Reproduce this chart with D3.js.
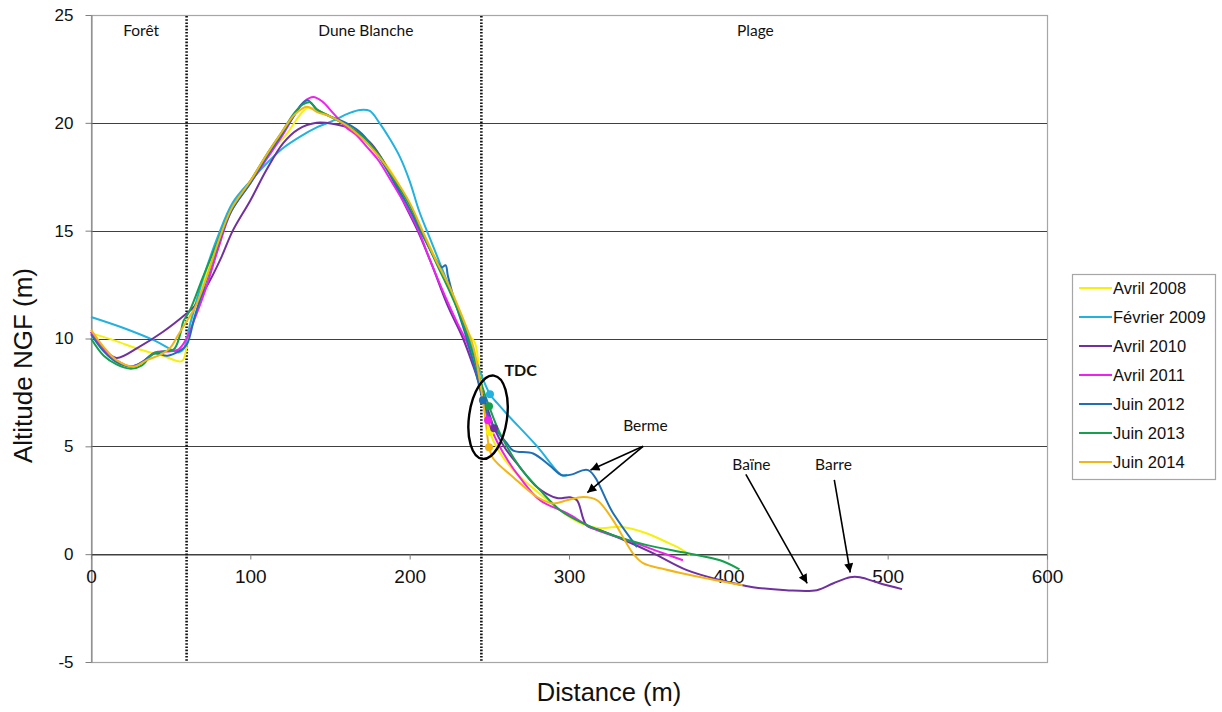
<!DOCTYPE html>
<html>
<head>
<meta charset="utf-8">
<script src="https://cdn.jsdelivr.net/npm/d3@7"></script>
<style>
  html, body { margin: 0; padding: 0; background: #fff; }
  svg { display: block; }
</style>
</head>
<body>
<svg id="chart" width="1222" height="712"></svg>
<script>
// ---------------- DATA ----------------
const seriesNames = ["Avril 2008", "Février 2009", "Avril 2010", "Avril 2011", "Juin 2012", "Juin 2013", "Juin 2014"];

const avril2008 = [[0,10.25],[15,9.9],[30,9.5],[45,9.2],[57,8.95],[60,9.6],[63,11.0],[70,12.5],[80,14.5],[88,16.0],[100,17.3],[112,18.6],[123,19.5],[130,20.25],[136,20.7],[145,20.5],[155,20.1],[165,19.7],[175,19.0],[185,18.1],[195,16.9],[205,15.4],[215,13.9],[225,12.3],[233,11.0],[238,10.1],[241,9.8],[244,8.4],[248,6.6],[250.4,5.66],[255,4.9],[265,3.9],[280,2.9],[295,2.0],[307,1.44],[319.5,1.2],[332,1.27],[349,0.96],[360,0.6],[370,0.25],[376,-0.05]];
const fevrier2009 = [[0,11.0],[20,10.5],[40,9.9],[50,9.5],[55,9.35],[58,9.5],[62,10.6],[70,12.7],[80,14.8],[89,16.3],[100,17.3],[110,18.1],[120,18.8],[131,19.35],[142,19.8],[152,20.1],[162,20.45],[169,20.6],[175,20.55],[181,20.0],[188,19.2],[194,18.4],[200,17.3],[206,15.9],[213,14.6],[220,13.3],[228,11.8],[236,10.3],[243,8.7],[250.4,7.42],[255,7.0],[261,6.5],[280,5.0],[295.6,3.66],[299,3.68]];
const avril2010 = [[0,10.3],[8,9.5],[16,9.1],[30,9.6],[45,10.3],[59,11.1],[65,11.5],[74.7,12.7],[82,13.8],[89,15.0],[100,16.4],[110,17.8],[120.5,19.05],[130,19.7],[141.6,20.0],[152,19.95],[162.5,19.75],[175,19.1],[182,18.4],[189.5,17.34],[197,16.2],[205,15.0],[214,13.4],[224,11.5],[233.5,10.0],[240,8.7],[245,7.6],[250,6.5],[253,5.84],[260,4.9],[269,4.05],[280,3.1],[292.5,2.6],[300.6,2.64],[305,2.5],[311,1.34],[320,1.1],[332,0.74],[352.7,0.05],[374,-0.74],[394.8,-1.2],[415.5,-1.53],[436.3,-1.67],[455.6,-1.67],[466,-1.35],[476.4,-1.07],[482.6,-1.07],[495,-1.35],[509,-1.62]];
const avril2011 = [[0,10.3],[10,9.3],[18,8.9],[25,8.7],[32,8.9],[40,9.35],[48,9.4],[55,9.5],[60,10.0],[65,10.9],[72,12.3],[80,14.2],[88,15.9],[100,17.2],[110,18.3],[120,19.4],[128,20.4],[134,21.0],[139.5,21.2],[145,21.0],[152,20.45],[160,19.8],[167,19.4],[173,18.9],[180,18.3],[188,17.35],[198,16.1],[205,15.1],[213,13.6],[222,12.0],[230,10.7],[236,9.8],[242,8.4],[246,7.2],[249.2,6.21],[255,5.2],[262,4.3],[269,3.57],[281.8,2.5],[298.7,1.9],[315,1.2],[340,0.56],[355,0.15],[371.5,-0.28]];
const juin2012 = [[0,10.2],[8,9.4],[16,8.9],[25,8.7],[32,8.9],[40,9.3],[48,9.2],[55,9.4],[60,9.7],[65,11.0],[72,12.6],[80,14.4],[88,15.9],[100,17.2],[110,18.4],[120,19.5],[128,20.4],[132,20.85],[136,21.05],[142,20.6],[150,20.3],[160,20.0],[170,19.5],[180,18.5],[190,17.3],[200,16.0],[208,14.8],[216,13.7],[220,13.3],[222.5,13.4],[224,12.9],[228,11.8],[235,10.2],[241,8.6],[246,7.14],[252,6.0],[257,5.5],[261,5.15],[265,4.8],[277.5,4.67],[288,4.1],[295.6,3.66],[302,3.7],[312,3.9],[327.7,1.9],[342.7,0.33]];
const juin2013 = [[0,10.0],[8,9.2],[16,8.8],[25,8.6],[32,8.75],[39,9.3],[45,9.4],[52,9.5],[56,10.2],[58,10.8],[62,11.3],[70,12.8],[80,14.6],[88,16.0],[100,17.3],[110,18.5],[120,19.6],[128,20.5],[133,20.85],[137.5,20.95],[142,20.6],[150,20.3],[160,19.9],[170,19.4],[180,18.6],[190,17.4],[200,16.2],[208,14.9],[216,13.6],[225,12.2],[233,10.8],[240,9.2],[245,7.9],[249.8,6.86],[256.7,5.6],[269,4.05],[281.8,2.97],[294.4,2.04],[307,1.5],[327.6,0.88],[349,0.42],[374,0.05],[394.8,-0.28],[407,-0.7]];
const juin2014 = [[0,10.4],[8,9.6],[16,9.0],[27,8.7],[35,9.0],[45,9.3],[50,9.6],[55,10.2],[60,10.8],[65,11.4],[72,12.7],[80,14.5],[88,16.0],[100,17.3],[110,18.5],[120,19.6],[128,20.4],[135.5,20.75],[142,20.5],[150,20.3],[160,19.9],[170,19.3],[180,18.5],[190,17.5],[200,16.3],[208,15.0],[216,13.7],[225,12.4],[233,11.0],[240,9.6],[245,7.6],[248,6.0],[249.8,4.96],[252.3,4.45],[265,3.57],[280,2.65],[290,2.35],[298.7,2.5],[309,2.65],[317.6,2.5],[327.7,1.57],[340,0.05],[346.5,-0.42],[360,-0.7],[382,-1.06],[409,-1.44]];

// TDC (trait de côte) points, one per series
const tdcX = [250.4, 250.4, 253.0, 249.2, 246.0, 249.8, 249.8];
const tdcY = [5.66, 7.42, 5.84, 6.21, 7.14, 6.86, 4.96];

const xTicks = [0, 100, 200, 300, 400, 500, 600];
const yTicks = [-5, 0, 5, 10, 15, 20, 25];
const zoneBounds = [60, 245];
const zoneLabels = ["Forêt", "Dune Blanche", "Plage"];
const zoneCenters = [31.5, 172.5, 417];

// ---------------- STYLE ----------------
const colors = ["#F5F10A", "#22B2E0", "#7030A0", "#EE22EE", "#1F6FB5", "#14A04E", "#F3B514"];
const seriesData = [avril2008, fevrier2009, avril2010, avril2011, juin2012, juin2013, juin2014];

const svg = d3.select("#chart");
const L = 91, R = 1047, T = 15, B = 662;
const x = d3.scaleLinear().domain([0, 600]).range([L, R]);
const y = d3.scaleLinear().domain([-5, 25]).range([B, T]);

const annoFont = "Lato, 'Open Sans', sans-serif";
const axisFont = "'Liberation Sans', Arial, sans-serif";
const plainFmt = d => String(d);

svg.append("defs").append("marker")
  .attr("id", "arrow").attr("viewBox", "0 0 10 10")
  .attr("refX", 10).attr("refY", 5)
  .attr("markerWidth", 11).attr("markerHeight", 9)
  .attr("markerUnits", "userSpaceOnUse")
  .attr("orient", "auto")
  .append("path").attr("d", "M0,0 L10,5 L0,10 z").attr("fill", "#000");

// plot frame
svg.append("rect").attr("x", L + 0.5).attr("y", T + 0.5)
  .attr("width", R - L).attr("height", B - T)
  .attr("fill", "none").attr("stroke", "#a6a6a6").attr("stroke-width", 1.2);

// gridlines
svg.append("g").selectAll("line").data(yTicks.filter(v => v > -5 && v < 25))
  .join("line")
  .attr("x1", L).attr("x2", R)
  .attr("y1", d => Math.round(y(d)) + 0.5).attr("y2", d => Math.round(y(d)) + 0.5)
  .attr("stroke", "#404040").attr("stroke-width", 1);

// y axis
const yAxis = svg.append("g").attr("transform", `translate(${L + 0.5},0)`)
  .call(d3.axisLeft(y).tickValues(yTicks).tickSize(6).tickSizeOuter(0).tickPadding(12).tickFormat(plainFmt));
yAxis.select(".domain").attr("stroke", "#7f7f7f");
yAxis.selectAll(".tick line").attr("stroke", "#7f7f7f");
yAxis.selectAll("text").attr("font-family", axisFont).attr("font-size", 17).attr("fill", "#111");

// x axis (at y = 0)
const xAxis = svg.append("g").attr("transform", `translate(0,${Math.round(y(0)) + 0.5})`)
  .call(d3.axisBottom(x).tickValues(xTicks).tickSize(5).tickSizeOuter(0).tickPadding(10).tickFormat(plainFmt));
xAxis.select(".domain").attr("stroke", "#404040");
xAxis.selectAll(".tick line").attr("stroke", "#7f7f7f");
xAxis.selectAll("text").attr("font-family", axisFont).attr("font-size", 19).attr("fill", "#111");

// zone dotted separators
svg.append("g").selectAll("line").data(zoneBounds).join("line")
  .attr("x1", d => x(d)).attr("x2", d => x(d))
  .attr("y1", T + 1).attr("y2", B)
  .attr("stroke", "#111").attr("stroke-width", 2.6).attr("stroke-dasharray", "1.6,1.6");

svg.append("g").selectAll("text").data(zoneLabels).join("text")
  .attr("x", (d, i) => x(zoneCenters[i])).attr("y", 36)
  .attr("text-anchor", "middle")
  .attr("font-family", annoFont).attr("font-size", 15.5).attr("fill", "#111")
  .text(d => d);

// series lines
const line = d3.line().x(d => x(d[0])).y(d => y(d[1])).curve(d3.curveCatmullRom.alpha(0.5));
svg.append("g").selectAll("path").data(seriesData).join("path")
  .attr("d", d => line(d))
  .attr("fill", "none")
  .attr("stroke", (d, i) => colors[i])
  .attr("stroke-width", 2)
  .attr("stroke-linejoin", "round");

// TDC points
svg.append("g").selectAll("circle").data(tdcX).join("circle")
  .attr("cx", d => x(d)).attr("cy", (d, i) => y(tdcY[i]))
  .attr("r", 4).attr("fill", (d, i) => colors[i]);

// TDC ellipse & label
svg.append("ellipse").attr("cx", 0).attr("cy", 0).attr("rx", 19).attr("ry", 42)
  .attr("transform", `translate(${x(249.2)},${y(6.35)}) rotate(8)`)
  .attr("fill", "none").attr("stroke", "#000").attr("stroke-width", 2.4);
svg.append("text").attr("x", x(259.5)).attr("y", y(8.25))
  .attr("font-family", annoFont).attr("font-weight", "bold").attr("font-size", 16).attr("fill", "#111")
  .text("TDC");

// annotations
const annos = [
  { text: "Berme", tx: x(348), ty: y(5.7) },
  { text: "Baïne", tx: x(414.5), ty: y(3.9) },
  { text: "Barre", tx: x(466), ty: y(3.9) }
];
svg.append("g").selectAll("text").data(annos).join("text")
  .attr("x", d => d.tx).attr("y", d => d.ty)
  .attr("text-anchor", "middle")
  .attr("font-family", annoFont).attr("font-size", 15.5).attr("fill", "#111")
  .text(d => d.text);

const arrows = [
  [346.5, 5.0, 313.5, 3.9],
  [346.5, 5.0, 311.5, 2.85],
  [411, 3.70, 449.5, -1.35],
  [466.5, 3.45, 476.5, -0.85]
];
svg.append("g").selectAll("line").data(arrows).join("line")
  .attr("x1", d => x(d[0])).attr("y1", d => y(d[1]))
  .attr("x2", d => x(d[2])).attr("y2", d => y(d[3]))
  .attr("stroke", "#000").attr("stroke-width", 1.6)
  .attr("marker-end", "url(#arrow)");

// axis titles
svg.append("text").attr("x", 609).attr("y", 701)
  .attr("text-anchor", "middle")
  .attr("font-family", axisFont).attr("font-size", 25.5).attr("fill", "#111")
  .text("Distance (m)");
svg.append("text")
  .attr("transform", `translate(32,463) rotate(-90)`)
  .attr("text-anchor", "start")
  .attr("font-family", axisFont).attr("font-size", 26).attr("fill", "#111")
  .text("Altitude NGF (m)");

// legend
const lg = svg.append("g");
lg.append("rect").attr("x", 1072.5).attr("y", 274.5).attr("width", 143).attr("height", 205)
  .attr("fill", "#fff").attr("stroke", "#a6a6a6").attr("stroke-width", 1.2);
const items = lg.selectAll("g.item").data(seriesNames).join("g")
  .attr("class", "item")
  .attr("transform", (d, i) => `translate(0,${288 + i * 29})`);
items.append("line").attr("x1", 1079).attr("x2", 1112).attr("y1", 0).attr("y2", 0)
  .attr("stroke", (d, i) => colors[i]).attr("stroke-width", 2);
items.append("text").attr("x", 1113).attr("y", 0).attr("dy", "0.35em")
  .attr("font-family", axisFont).attr("font-size", 16.5).attr("fill", "#111")
  .text(d => d);
</script>
</body>
</html>
